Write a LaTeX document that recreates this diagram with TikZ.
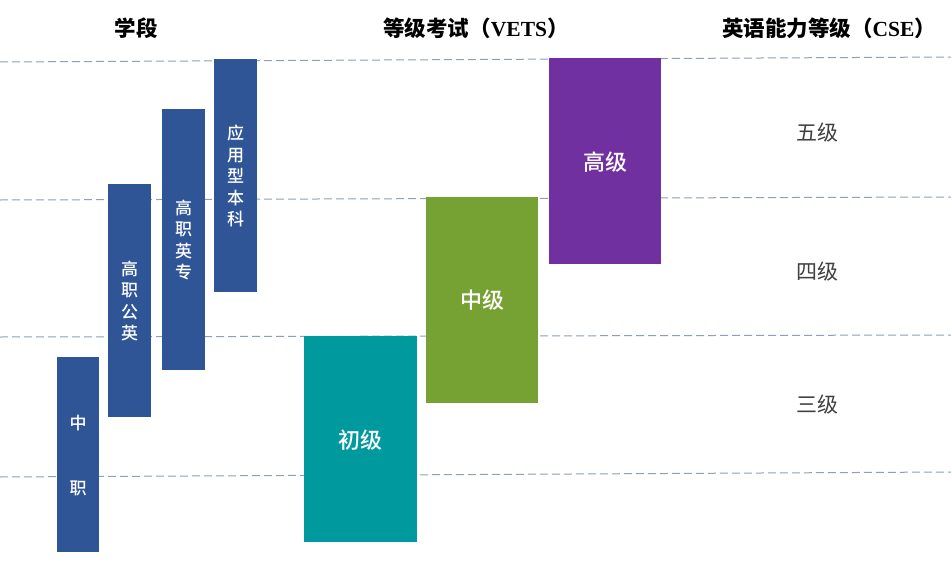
\documentclass[tikz,border=0pt]{standalone}
\usepackage{fontspec}
\setmainfont{Noto Sans CJK SC}
\newfontfamily\cjkmed{Noto Sans CJK SC Medium}
\newfontfamily\latinserif{Liberation Serif}
\definecolor{barblue}{HTML}{2F5597}
\definecolor{teal2}{HTML}{009A9E}
\definecolor{green2}{HTML}{76A133}
\definecolor{purple2}{HTML}{7030A0}
\definecolor{guide}{HTML}{8D9FBD}
\definecolor{lvl}{HTML}{404040}
\begin{document}
\begin{tikzpicture}[x=1pt,y=-1pt,
  guideline/.style={draw=guide,line width=1pt,dash pattern=on 8pt off 4pt},
  stagebar/.style={fill=barblue,draw=none,inner sep=0pt,text=white,
    font=\fontsize{17}{21.5}\selectfont\cjkmed,align=center},
  levelbox/.style={draw=none,inner sep=0pt,text=white,font=\fontsize{22}{26}\selectfont\cjkmed},
  header/.style={font=\fontsize{21.5}{26}\selectfont\bfseries,text=black,inner sep=0pt},
  cselabel/.style={font=\fontsize{21}{25}\selectfont,text=lvl,inner sep=0pt}]
\useasboundingbox (0,0) rectangle (951,562);
\fill[white] (0,0) rectangle (951,562);
% guide lines
\coordinate (g1l) at (0,62);  \coordinate (g1r) at (951,57);
\coordinate (g2l) at (0,200); \coordinate (g2r) at (951,197);
\coordinate (g3l) at (0,337); \coordinate (g3r) at (951,335);
\coordinate (g4l) at (0,477); \coordinate (g4r) at (951,472);
\draw[guideline] (g1l) -- (g1r);
\draw[guideline] (g2l) -- (g2r);
\draw[guideline] (g3l) -- (g3r);
\draw[guideline] (g4l) -- (g4r);
% headers
\node[header] (h1) at (136,28) {学段};
\node[header] (h2) at (476,28) {等级考试（{\latinserif\bfseries VETS}）};
\node[header] (h3) at (829,28) {英语能力等级（{\latinserif\bfseries CSE}）};
% stage bars
\fill[barblue] (57,357) rectangle (99,552);
\node[stagebar] (zz) at (78,423) {中};
\node[stagebar] (zz2) at (78,488) {职};
\fill[barblue] (108,184) rectangle (151,417);
\node[stagebar] (gzgy) at (129.5,301) {高\\职\\公\\英};
\fill[barblue] (162,109) rectangle (205,370);
\node[stagebar] (gzyz) at (183.5,240) {高\\职\\英\\专};
\fill[barblue] (214,59) rectangle (257,292);
\node[stagebar] (yyxbk) at (235.5,176) {应\\用\\型\\本\\科};
% level boxes
\fill[teal2] (304,336) rectangle (417,542);
\node[levelbox] (cj) at (360.5,440) {初级};
\fill[green2] (426,197) rectangle (538,403);
\node[levelbox] (zj) at (482,300) {中级};
\fill[purple2] (549,58) rectangle (661,264);
\node[levelbox] (gj) at (605,162) {高级};
% CSE labels
\node[cselabel] (l5) at (817,133) {五级};
\node[cselabel] (l4) at (817,272) {四级};
\node[cselabel] (l3) at (817,405) {三级};
\end{tikzpicture}
\end{document}
